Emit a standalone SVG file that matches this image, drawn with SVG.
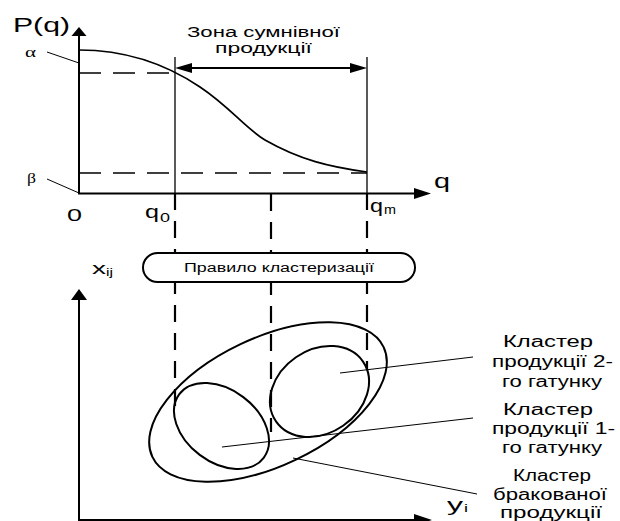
<svg xmlns="http://www.w3.org/2000/svg" width="620" height="521" viewBox="0 0 620 521">
<style>
text{font-family:"Liberation Sans",Arial,sans-serif;fill:#000}
.gr{font-family:"Liberation Serif","Times New Roman",serif}
.ax{stroke:#000;stroke-width:2;fill:none}
.thin{stroke:#000;stroke-width:1;fill:none}
.sol{stroke:#000;stroke-width:1.3;fill:none}
.dh{stroke:#000;stroke-width:1.5;fill:none;stroke-dasharray:22 12}
.dv{stroke:#000;stroke-width:2.2;fill:none;stroke-dasharray:17 11}
.ell{stroke:#000;stroke-width:2;fill:none}
</style>
<rect width="620" height="521" fill="#fff"/>
<g id="top-chart">
  <line class="ax" x1="79" y1="35" x2="79" y2="194"/>
  <polygon points="79,27 71.5,36 86.5,36" fill="#000"/>
  <line class="ax" x1="78" y1="193.5" x2="416" y2="193.5"/>
  <polygon points="431,193.5 414,188 414,199" fill="#000"/>
  <path class="ell" d="M79,50 C120,50 160,60 200,87 C230,107 245,128 265,140 C300,160 330,167 367,172" style="stroke-width:1.7"/>
  <line class="dh" x1="79" y1="73" x2="175" y2="73"/>
  <line class="dh" x1="79" y1="173" x2="367" y2="173"/>
  <line class="sol" x1="175" y1="57" x2="175" y2="193"/>
  <line class="sol" x1="367" y1="57" x2="367" y2="193"/>
  <line class="thin" x1="47" y1="52" x2="79" y2="63"/>
  <line class="thin" x1="47" y1="179" x2="79" y2="193"/>
  <g id="zone-arrow">
    <line stroke="#000" stroke-width="2" x1="190" y1="68" x2="352" y2="68"/>
    <polygon points="175,68 192,63 192,73" fill="#000"/>
    <polygon points="367,68 350,63 350,73" fill="#000"/>
  </g>
  <text x="13" y="32" font-size="21" textLength="57" lengthAdjust="spacingAndGlyphs">P(q)</text>
  <text class="gr" x="25" y="57" font-size="14" textLength="11" lengthAdjust="spacingAndGlyphs">α</text>
  <text class="gr" x="27" y="183" font-size="14" textLength="9" lengthAdjust="spacingAndGlyphs">β</text>
  <text x="67" y="221" font-size="17" textLength="15" lengthAdjust="spacingAndGlyphs">0</text>
  <text x="145" y="218" font-size="18" textLength="14" lengthAdjust="spacingAndGlyphs">q</text>
  <text x="160" y="222" font-size="13" textLength="10" lengthAdjust="spacingAndGlyphs">0</text>
  <text x="434" y="188" font-size="20" textLength="16" lengthAdjust="spacingAndGlyphs">q</text>
  <text x="370" y="212" font-size="18" textLength="13" lengthAdjust="spacingAndGlyphs">q</text>
  <text x="384" y="214" font-size="12" textLength="12" lengthAdjust="spacingAndGlyphs">m</text>
  <text x="187" y="37" font-size="15.5" textLength="153" lengthAdjust="spacingAndGlyphs">Зона сумнівної</text>
  <text x="215" y="53" font-size="15.5" textLength="97" lengthAdjust="spacingAndGlyphs">продукції</text>
</g>
<g id="connectors">
  <line class="dv" x1="175" y1="193" x2="175" y2="416"/>
  <line class="dv" x1="271" y1="194" x2="271" y2="432"/>
  <line class="dv" x1="367" y1="193" x2="367" y2="370"/>
  <line class="thin" x1="340" y1="373" x2="473" y2="357"/>
  <line class="thin" x1="222" y1="447" x2="473" y2="418"/>
  <line class="thin" x1="293" y1="458" x2="477" y2="494"/>
</g>
<g id="rule">
  <rect x="143" y="253" width="272" height="29" rx="14.5" ry="14.5" fill="#fff" stroke="#000" stroke-width="2"/>
  <text x="184" y="272" font-size="12.5" textLength="190" lengthAdjust="spacingAndGlyphs">Правило кластеризації</text>
</g>
<g id="bottom-chart">
  <line class="ax" x1="79" y1="299" x2="79" y2="521"/>
  <polygon points="79,289 71,300 87,300" fill="#000"/>
  <line class="ax" x1="78" y1="520" x2="416" y2="520"/>
  <polygon points="432,520 414,514 414,526" fill="#000"/>
  <text x="92" y="274" font-size="17" textLength="14" lengthAdjust="spacingAndGlyphs">x</text>
  <text x="106" y="276" font-size="11" textLength="7" lengthAdjust="spacingAndGlyphs">ij</text>
  <text x="447" y="511" font-size="18" textLength="16" lengthAdjust="spacingAndGlyphs">y</text>
  <text x="464" y="512" font-size="10" textLength="4" lengthAdjust="spacingAndGlyphs">i</text>
</g>
<g id="cluster-reject">
  <ellipse class="ell" cx="268" cy="402" rx="128" ry="64" transform="rotate(-25.4 268 402)"/>
  <text x="513" y="481" font-size="16" textLength="78" lengthAdjust="spacingAndGlyphs">Кластер</text>
  <text x="493" y="500" font-size="16" textLength="114" lengthAdjust="spacingAndGlyphs">бракованої</text>
  <text x="500" y="518" font-size="16" textLength="102" lengthAdjust="spacingAndGlyphs">продукції</text>
</g>
<g id="cluster-1">
  <ellipse class="ell" cx="221.5" cy="426" rx="52.8" ry="36.2" transform="rotate(37 221.5 426)"/>
  <text x="503" y="415" font-size="16" textLength="90" lengthAdjust="spacingAndGlyphs">Кластер</text>
  <text x="492" y="434" font-size="16" textLength="123" lengthAdjust="spacingAndGlyphs">продукції 1-</text>
  <text x="502" y="453" font-size="16" textLength="100" lengthAdjust="spacingAndGlyphs">го гатунку</text>
</g>
<g id="cluster-2">
  <ellipse class="ell" cx="319.5" cy="391.5" rx="52.8" ry="41.6" transform="rotate(-34.5 319.5 391.5)"/>
  <text x="503" y="347" font-size="16" textLength="90" lengthAdjust="spacingAndGlyphs">Кластер</text>
  <text x="492" y="367" font-size="16" textLength="121" lengthAdjust="spacingAndGlyphs">продукції 2-</text>
  <text x="502" y="387" font-size="16" textLength="100" lengthAdjust="spacingAndGlyphs">го гатунку</text>
</g>
</svg>
